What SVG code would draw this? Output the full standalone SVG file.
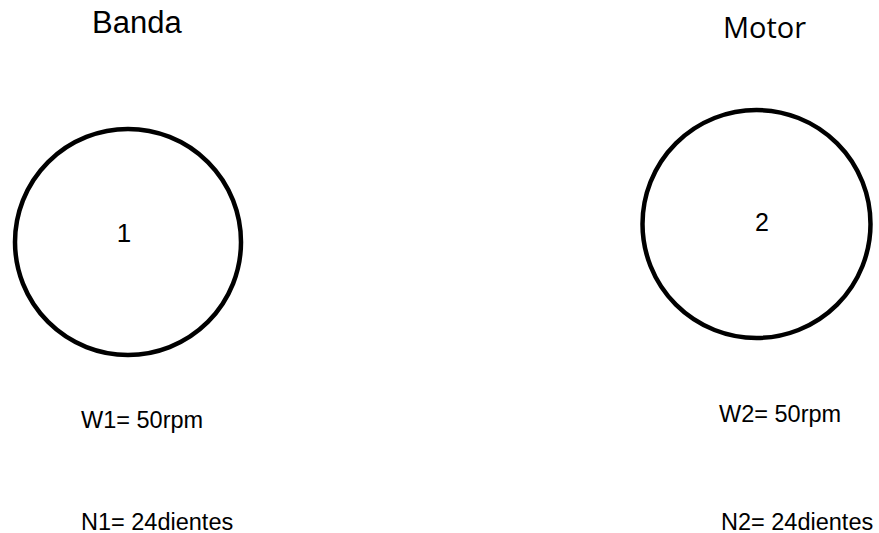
<svg xmlns="http://www.w3.org/2000/svg" width="879" height="533" viewBox="0 0 879 533">
<style>
.c{fill:none;stroke:#000;stroke-width:4.5}
.t{font-family:"Liberation Sans",Arial,sans-serif;fill:#000}
.m{font-family:"Open Sans","Noto Sans",sans-serif;fill:#000}
</style>
<rect width="879" height="533" fill="#fff"/>
<g id="connectors"></g>
<g id="banda-title"><text class="t" x="92" y="33" font-size="31">Banda</text></g>
<g id="motor-title"><text class="m" x="723" y="38" font-size="29">Motor</text></g>
<g id="gear1">
<circle class="c" cx="128" cy="242" r="113"/>
<text class="t" x="124" y="242" font-size="26" text-anchor="middle">1</text>
</g>
<g id="gear2">
<circle class="c" cx="756.5" cy="224" r="114"/>
<text class="t" x="762" y="231" font-size="25" text-anchor="middle">2</text>
</g>
<g id="labels1">
<text class="t" x="81" y="428" font-size="23.5">W1= 50rpm</text>
<text class="t" x="81" y="530" font-size="23.5">N1= 24dientes</text>
</g>
<g id="labels2">
<text class="t" x="719" y="422" font-size="23.5">W2= 50rpm</text>
<text class="t" x="721" y="530" font-size="23.5">N2= 24dientes</text>
</g>
</svg>
